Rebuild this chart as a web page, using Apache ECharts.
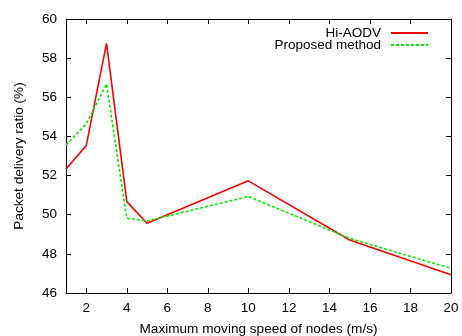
<!DOCTYPE html>
<html>
<head>
<meta charset="utf-8">
<script src="https://cdn.jsdelivr.net/npm/echarts@6/dist/echarts.min.js"></script>
<style>
  html, body { margin: 0; padding: 0; background: #fff; }
  #chart { width: 462px; height: 336px; }
</style>
</head>
<body>
<div id="chart"></div>
<script>
// speeds (m/s) at which each scheme was measured
const speeds = [1, 2, 3, 4, 5, 10, 15, 20];
const hiAodv = [52.34, 53.53, 58.75, 50.67, 49.56, 51.73, 48.71, 46.93];
const proposed = [53.56, 54.64, 56.68, 49.82, 49.68, 50.93, 48.79, 47.26];
const xTicks = [2, 4, 6, 8, 10, 12, 14, 16, 18, 20];

const chart = echarts.init(document.getElementById("chart"));
const font = "Liberation Sans, Arial, sans-serif";

const pairs = (ys) => speeds.map((x, i) => [x, ys[i]]);

const tickStyle = { show: true, inside: true, length: 5, lineStyle: { color: "#000" } };
const lineStyle = { show: true, lineStyle: { color: "#000", width: 1 } };

function legendFor(name, top) {
  return {
    data: [name],
    right: 28, top: top,
    align: "right",
    itemWidth: 37, itemHeight: 10,
    itemStyle: { opacity: 0 },
    textStyle: { fontFamily: font, fontSize: 13.5, color: "#000", padding: [0, 5, 0, 0] },
    selectedMode: false
  };
}

chart.setOption({
  animation: false,
  grid: { left: 66, right: 11, top: 19, bottom: 43, containLabel: false, outerBoundsMode: "none" },
  legend: [legendFor("Hi-AODV", 21), legendFor("Proposed method", 33)],
  xAxis: [
    {
      type: "value", min: 1, max: 20,
      name: "Maximum moving speed of nodes (m/s)",
      nameLocation: "middle", nameGap: 29,
      nameTextStyle: { fontFamily: font, fontSize: 13.6, color: "#000" },
      axisLine: lineStyle,
      axisTick: Object.assign({ customValues: xTicks }, tickStyle),
      axisLabel: { customValues: xTicks, fontFamily: font, fontSize: 13.5, color: "#000", margin: 8 },
      splitLine: { show: false }
    },
    {
      type: "value", min: 1, max: 20, position: "top",
      axisLine: lineStyle,
      axisTick: Object.assign({ customValues: xTicks }, tickStyle),
      axisLabel: { show: false, customValues: xTicks },
      splitLine: { show: false }
    }
  ],
  yAxis: [
    {
      type: "value", min: 46, max: 60, interval: 2,
      name: "Packet delivery ratio (%)",
      nameLocation: "middle", nameGap: 40,
      nameTextStyle: { fontFamily: font, fontSize: 13.6, color: "#000" },
      axisLine: lineStyle,
      axisTick: tickStyle,
      axisLabel: { fontFamily: font, fontSize: 13.5, color: "#000", margin: 9 },
      splitLine: { show: false }
    },
    {
      type: "value", min: 46, max: 60, interval: 2, position: "right",
      axisLine: lineStyle,
      axisTick: tickStyle,
      axisLabel: { show: false },
      splitLine: { show: false }
    }
  ],
  series: [
    {
      name: "Hi-AODV", type: "line", data: pairs(hiAodv),
      symbol: "none", color: "#ff0000",
      lineStyle: { color: "#ff0000", width: 1.6 }
    },
    {
      name: "Proposed method", type: "line", data: pairs(proposed),
      symbol: "none", color: "#00ee00",
      lineStyle: { color: "#00ee00", width: 1.6, type: [3, 2] }
    }
  ]
});
</script>
</body>
</html>
